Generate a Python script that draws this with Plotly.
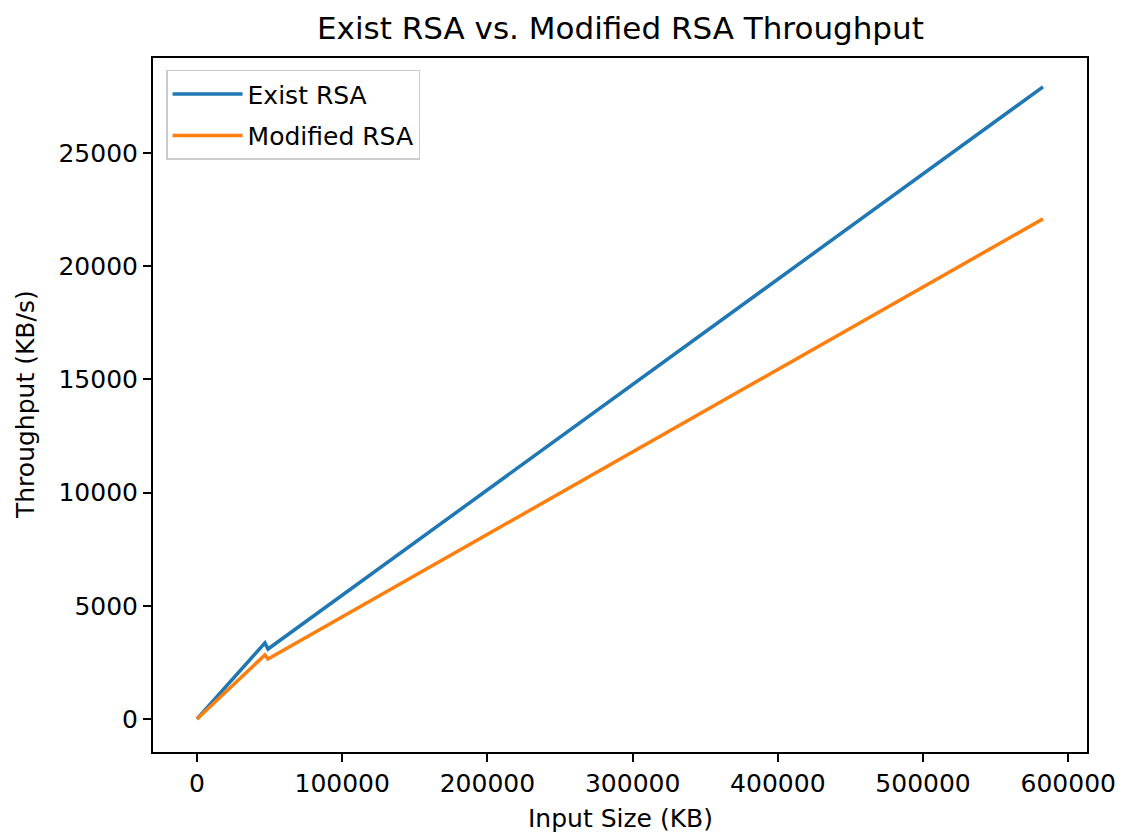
import plotly.graph_objects as go

# Input sizes (KB) and measured throughput (KB/s)
input_size_kb = [0, 46800, 48900, 582600]
exist_rsa = [0, 3360, 3090, 27920]
modified_rsa = [0, 2830, 2650, 22090]

x_ticks = [0, 100000, 200000, 300000, 400000, 500000, 600000]
y_ticks = [0, 5000, 10000, 15000, 20000, 25000]

FONT = "DejaVu Sans"
TICK_SIZE = 25

fig = go.Figure()
fig.add_trace(go.Scatter(x=input_size_kb, y=exist_rsa, mode="lines", name="Exist RSA",
                         legendgroup="exist",
                         line=dict(color="#1f77b4", width=3.5)))
fig.add_trace(go.Scatter(x=input_size_kb, y=modified_rsa, mode="lines", name="Modified RSA",
                         legendgroup="modified",
                         line=dict(color="#ff7f0e", width=3.5)))

axis_style = dict(showline=True, linecolor="black", linewidth=2, mirror=True,
                  ticks="outside", ticklen=8, tickwidth=2, tickcolor="black",
                  showgrid=False, zeroline=False, automargin=False,
                  tickfont=dict(family=FONT, size=TICK_SIZE, color="black"))

label_font = dict(family=FONT, size=TICK_SIZE, color="black")

fig.update_layout(
    width=1124, height=835,
    margin=dict(l=153, r=37, t=58, b=83),
    paper_bgcolor="white", plot_bgcolor="white",
    title=dict(text="Exist RSA vs. Modified RSA Throughput", x=0.552, xanchor="center",
               y=0.966, yanchor="middle",
               font=dict(family=FONT, size=31, color="black")),
    xaxis=dict(range=[-30300, 612900], tickvals=x_ticks,
               ticktext=[str(v) for v in x_ticks], **axis_style),
    yaxis=dict(range=[-1458, 29196], tickvals=y_ticks,
               ticktext=[str(v) for v in y_ticks], **axis_style),
    legend=dict(x=0.014, y=0.983, xanchor="left", yanchor="top",
                bgcolor="rgba(255,255,255,0.8)", bordercolor="#cccccc", borderwidth=1.5,
                font=dict(family=FONT, size=TICK_SIZE, color="black"),
                itemwidth=70, tracegroupgap=6),
    annotations=[
        dict(text="Input Size (KB)", xref="paper", yref="paper", x=0.5, y=0,
             xanchor="center", yanchor="middle", yshift=-66, showarrow=False,
             font=label_font),
        dict(text="Throughput (KB/s)", xref="paper", yref="paper", x=0, y=0.5,
             xanchor="center", yanchor="middle", xshift=-128, textangle=-90,
             showarrow=False, font=label_font),
    ],
    showlegend=True,
)

fig.write_html("out.html")
